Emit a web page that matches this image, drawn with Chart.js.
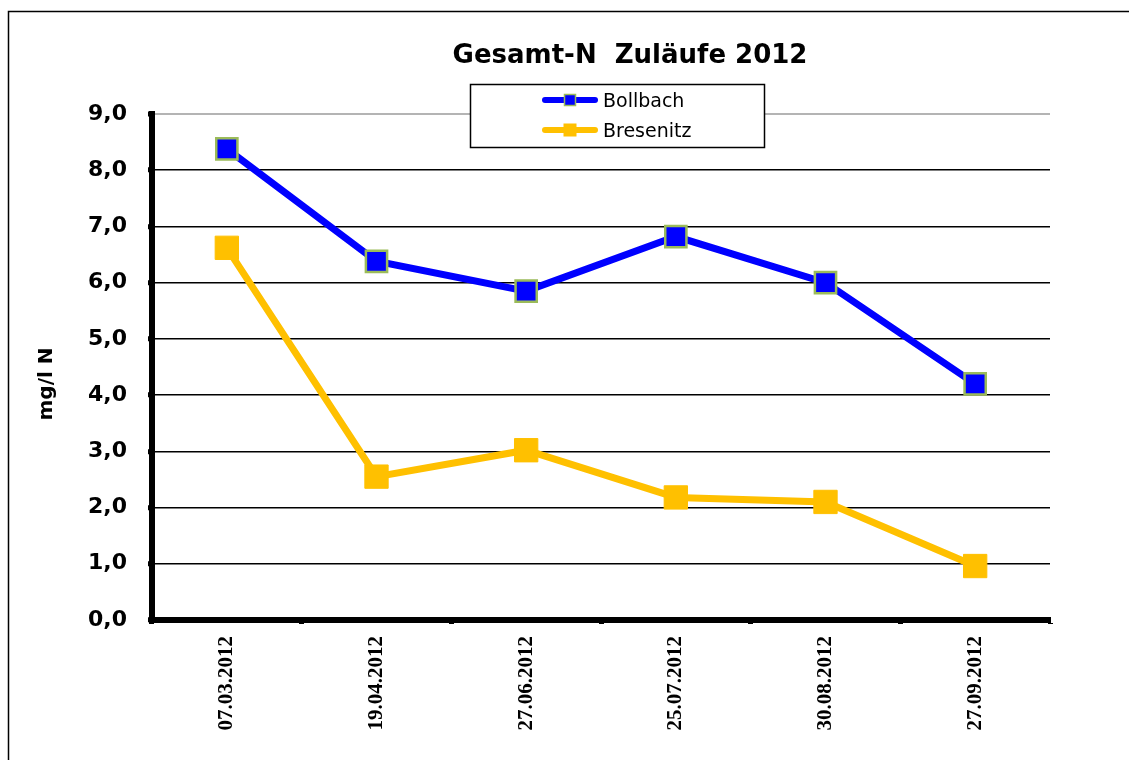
<!DOCTYPE html>
<html>
<head>
<meta charset="utf-8">
<script src="https://cdn.jsdelivr.net/npm/chart.js@4/dist/chart.umd.min.js"></script>
<style>
  html, body { margin: 0; padding: 0; background: #fff; }
  canvas { display: block; }
</style>
</head>
<body>
<canvas id="chart" width="1129" height="760"></canvas>
<script>
// Gesamt-N Zuläufe 2012
const dates = ['07.03.2012', '19.04.2012', '27.06.2012', '25.07.2012', '30.08.2012', '27.09.2012'];
const bollbach = [8.38, 6.38, 5.85, 6.82, 6.0, 4.2];
const bresenitz = [6.62, 2.55, 3.02, 2.18, 2.1, 0.96];
const seriesNames = ['Bollbach', 'Bresenitz'];
const chartTitle = 'Gesamt-N  Zuläufe 2012';
const yTitle = 'mg/l N';

const BLUE = '#0000ff';
const ORANGE = '#ffc000';
const GREEN = '#9bbb59';

// frame, title, y title and the boxed legend
const decor = {
  id: 'decor',
  beforeDraw(chart) {
    const ctx = chart.ctx;
    ctx.save();
    ctx.fillStyle = '#fff';
    ctx.fillRect(0, 0, chart.width, chart.height);
    ctx.strokeStyle = '#000';
    ctx.lineWidth = 1.5;
    ctx.beginPath();
    ctx.moveTo(8.5, chart.height + 5);
    ctx.lineTo(8.5, 11.5);
    ctx.lineTo(chart.width + 5, 11.5);
    ctx.stroke();

    ctx.fillStyle = '#000';
    ctx.font = 'bold 26px "DejaVu Sans"';
    ctx.textAlign = 'center';
    ctx.textBaseline = 'alphabetic';
    ctx.fillText(chartTitle, 630, 63);

    ctx.translate(52, 384);
    ctx.rotate(-Math.PI / 2);
    ctx.font = 'bold 20px "DejaVu Sans"';
    ctx.fillText(yTitle, 0, 0);
    ctx.restore();
  },
  afterDraw(chart) {
    const ctx = chart.ctx;
    ctx.save();
    ctx.fillStyle = '#fff';
    ctx.fillRect(470, 84, 294, 63);
    ctx.strokeStyle = '#000';
    ctx.lineWidth = 1.5;
    ctx.strokeRect(470.5, 84.5, 294, 63);

    const rows = [100, 130];
    chart.data.datasets.forEach((ds, i) => {
      const y = rows[i];
      ctx.strokeStyle = ds.borderColor;
      ctx.lineWidth = 6;
      ctx.lineCap = 'round';
      ctx.beginPath();
      ctx.moveTo(545, y);
      ctx.lineTo(595, y);
      ctx.stroke();
      const s = i === 0 ? 11 : 13;
      ctx.fillStyle = ds.pointBackgroundColor;
      ctx.fillRect(570 - s / 2, y - s / 2, s, s);
      if (i === 0) {
        ctx.strokeStyle = GREEN;
        ctx.lineWidth = 1.5;
        ctx.strokeRect(570 - s / 2, y - s / 2, s, s);
      }
      ctx.fillStyle = '#000';
      ctx.font = '19px "DejaVu Sans"';
      ctx.textAlign = 'left';
      ctx.textBaseline = 'alphabetic';
      ctx.fillText(ds.label, 603, y + 7);
    });
    ctx.restore();
  }
};

const ctx = document.getElementById('chart').getContext('2d');
new Chart(ctx, {
  type: 'line',
  data: {
    labels: dates,
    datasets: [
      {
        label: seriesNames[0],
        data: bollbach,
        borderColor: BLUE,
        borderWidth: 7,
        pointStyle: 'rect',
        pointRadius: 15,
        pointBackgroundColor: BLUE,
        pointBorderColor: GREEN,
        pointBorderWidth: 2.5,
        tension: 0
      },
      {
        label: seriesNames[1],
        data: bresenitz,
        borderColor: ORANGE,
        borderWidth: 7,
        pointStyle: 'rect',
        pointRadius: 16.5,
        pointBackgroundColor: ORANGE,
        pointBorderColor: ORANGE,
        pointBorderWidth: 1,
        tension: 0
      }
    ]
  },
  options: {
    responsive: false,
    animation: false,
    events: [],
    devicePixelRatio: 1,
    layout: { padding: { left: 0, right: 79, top: 114, bottom: 0 } },
    plugins: {
      legend: { display: false },
      title: { display: false },
      tooltip: { enabled: false }
    },
    scales: {
      x: {
        offset: true,
        afterFit(scale) { scale.height = 140; },
        grid: {
          offset: true,
          drawOnChartArea: false,
          drawTicks: true,
          tickLength: 4,
          tickWidth: 5,
          tickColor: '#000'
        },
        border: { display: true, color: '#000', width: 6 },
        ticks: {
          autoSkip: false,
          minRotation: 90,
          maxRotation: 90,
          padding: 12,
          color: '#000',
          font: { family: '"Liberation Serif", "Times New Roman", serif', weight: 'bold', size: 21 }
        }
      },
      y: {
        min: 0,
        max: 9,
        afterFit(scale) { scale.width = 152; },
        grid: {
          color: c => (c.tick && c.tick.value === 9 ? '#b4b4b4' : '#000'),
          lineWidth: c => (c.tick && c.tick.value === 9 ? 2 : 1.5),
          drawTicks: true,
          tickLength: 4,
          tickWidth: 5,
          tickColor: '#000'
        },
        border: { display: true, color: '#000', width: 6 },
        ticks: {
          stepSize: 1,
          padding: 21,
          color: '#000',
          font: { family: '"DejaVu Sans"', weight: 'bold', size: 22 },
          callback: v => v.toFixed(1).replace('.', ',')
        }
      }
    }
  },
  plugins: [decor]
});
</script>
</body>
</html>
